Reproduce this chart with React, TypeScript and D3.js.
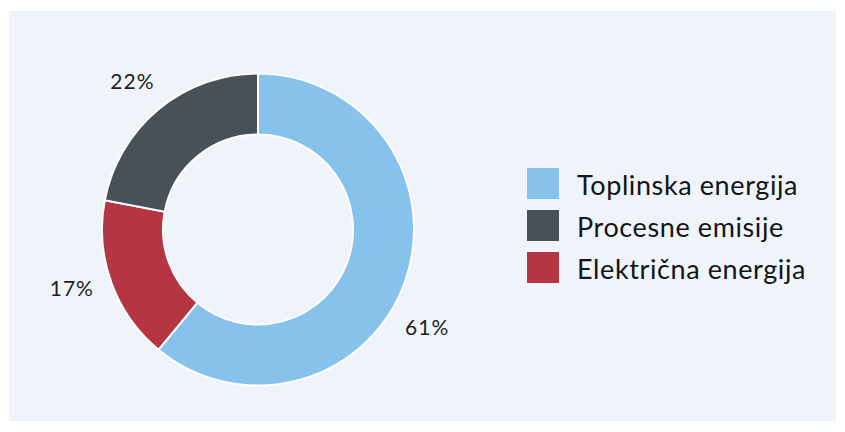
import React from "react";
import * as d3 from "d3";

const categories = ["Toplinska energija", "Električna energija", "Procesne emisije"];
const values = [61, 17, 22];
const colors = ["#86C2EB", "#B53642", "#475157"];
const legendOrder = ["Toplinska energija", "Procesne emisije", "Električna energija"];
// small angular nudges (degrees) for outside labels
const labelNudge = [10, 2.5, -0.5];

const W = 845;
const H = 432;

export default function App() {
  const cx = 258;
  const cy = 229.5;
  const outerR = 156;
  const innerR = 95;
  const labelR = 195;

  const data = categories.map((c, i) => ({ c, v: values[i], color: colors[i], nudge: labelNudge[i] }));
  const pie = d3.pie<any>().value((d) => d.v).sort(null);
  const arcs = pie(data);
  const arc = d3.arc<any>().innerRadius(innerR).outerRadius(outerR);

  const colorOf = (name: string) => colors[categories.indexOf(name)];

  return (
    <svg width={W} height={H} style={{ position: "absolute", left: 0, top: 0 }}>
      <rect x={0} y={0} width={W} height={H} fill="#ffffff" />
      <rect x={9} y={11} width={827} height={410} fill="#EEF4FA" />
      <g transform={`translate(${cx},${cy})`}>
        {arcs.map((a, i) => (
          <path key={i} d={arc(a) || ""} fill={a.data.color} stroke="#ffffff" strokeWidth={2} />
        ))}
        {arcs.map((a, i) => {
          const mid = (a.startAngle + a.endAngle) / 2 + (a.data.nudge * Math.PI) / 180;
          const x = Math.sin(mid) * labelR;
          const y = -Math.cos(mid) * labelR;
          return (
            <text
              key={"l" + i}
              x={x}
              y={y}
              textAnchor="middle"
              dominantBaseline="central"
              fontFamily="Lato, sans-serif"
              fontSize={21}
              letterSpacing={1}
              fill="#1e1e1e"
            >
              {a.data.v}%
            </text>
          );
        })}
      </g>
      <g transform="translate(527,168)">
        {legendOrder.map((name, i) => (
          <g key={name} transform={`translate(0,${i * 42})`}>
            <rect x={0} y={0} width={32} height={31} fill={colorOf(name)} />
            <text x={50} y={27} fontFamily="Lato, sans-serif" fontSize={27} letterSpacing={0.6} fill="#141414">
              {name}
            </text>
          </g>
        ))}
      </g>
    </svg>
  );
}
